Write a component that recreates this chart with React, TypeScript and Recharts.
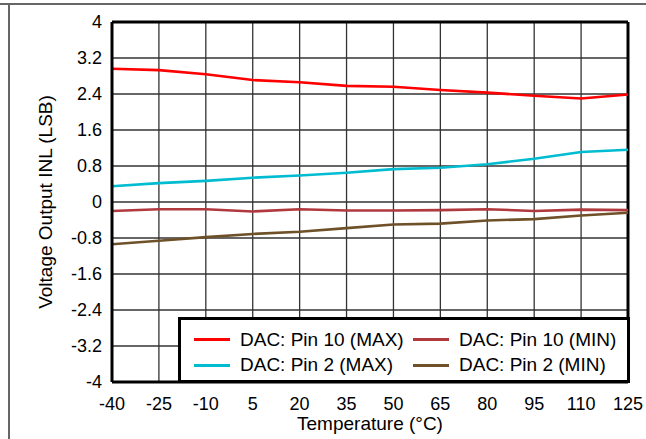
import React from 'react';
import {
  LineChart, Line, XAxis, YAxis, CartesianGrid, Legend, ReferenceLine,
} from 'recharts';

const TEMPS = [-40, -25, -10, 5, 20, 35, 50, 65, 80, 95, 110, 125];
const PIN10_MAX = [2.96, 2.93, 2.84, 2.71, 2.66, 2.58, 2.56, 2.49, 2.43, 2.36, 2.3, 2.39];
const PIN10_MIN = [-0.2, -0.16, -0.16, -0.21, -0.16, -0.19, -0.19, -0.18, -0.16, -0.2, -0.17, -0.18];
const PIN2_MAX = [0.35, 0.42, 0.47, 0.54, 0.59, 0.65, 0.73, 0.76, 0.84, 0.96, 1.11, 1.16];
const PIN2_MIN = [-0.94, -0.86, -0.78, -0.71, -0.66, -0.58, -0.5, -0.48, -0.41, -0.38, -0.3, -0.24];
const Y_TICKS = [-4, -3.2, -2.4, -1.6, -0.8, 0, 0.8, 1.6, 2.4, 3.2, 4];

const SERIES = [
  { key: 'p10max', name: 'DAC: Pin 10 (MAX)', color: '#ff0000', values: PIN10_MAX },
  { key: 'p10min', name: 'DAC: Pin 10 (MIN)', color: '#b0393e', values: PIN10_MIN },
  { key: 'p2max', name: 'DAC: Pin 2 (MAX)', color: '#00bcd0', values: PIN2_MAX },
  { key: 'p2min', name: 'DAC: Pin 2 (MIN)', color: '#6e5128', values: PIN2_MIN },
];

const data = TEMPS.map((t, i) => {
  const row: Record<string, number> = { t };
  SERIES.forEach((s) => { row[s.key] = s.values[i]; });
  return row;
});

const FONT = '"Liberation Sans", Arial, sans-serif';

const renderLegend = (props: any) => (
  <div style={{
    boxSizing: 'border-box', width: 452, height: 66, border: '3px solid #000', background: '#fff',
    padding: '9px 0 0 13px', display: 'grid', gridTemplateColumns: '219px auto',
    fontFamily: FONT, fontSize: 19, color: '#000', textAlign: 'left',
  }}>
    {(props.payload || []).map((p: any) => (
      <div key={p.value} style={{ height: 21, display: 'flex', alignItems: 'center' }}>
        <span style={{ width: 36, height: 3, background: p.color, marginRight: 10, display: 'inline-block' }} />
        <span style={{ whiteSpace: 'nowrap' }}>{p.value}</span>
      </div>
    ))}
  </div>
);

export default function App() {
  return (
    <div style={{ position: 'absolute', left: 0, top: 0, width: 646, height: 439, background: '#fff', fontFamily: FONT }}>
      <div style={{ position: 'absolute', left: 0, top: 3, width: 646, height: 1.5, background: '#666' }} />
      <div style={{ position: 'absolute', left: 8, top: 3, width: 1.5, height: 436, background: '#666' }} />
      <LineChart width={646} height={439} data={data} margin={{ top: 22, right: 18, bottom: 0, left: 0 }}>
        <CartesianGrid stroke="#333" strokeWidth={1.3} />
        <XAxis
          dataKey="t" type="number" domain={[-40, 125]} ticks={TEMPS} height={57}
          tickLine={false} tickSize={6} tickMargin={9} interval={0}
          axisLine={{ stroke: '#000', strokeWidth: 3 }}
          tick={{ fill: '#000', fontSize: 18, fontFamily: FONT }}
          label={{
            content: (p: any) => (
              <text x={p.viewBox.x + p.viewBox.width / 2} y={430} textAnchor="middle" fontSize={19} fontFamily={FONT} fill="#000">
                Temperature (°C)
              </text>
            ),
          }}
        />
        <YAxis
          type="number" domain={[-4, 4]} ticks={Y_TICKS} width={112} interval={0}
          tickLine={false} tickSize={6} tickMargin={4}
          axisLine={{ stroke: '#000', strokeWidth: 3 }}
          tick={{ fill: '#000', fontSize: 18, fontFamily: FONT }}
          label={{
            content: (p: any) => {
              const cy = p.viewBox.y + p.viewBox.height / 2;
              return (
                <text x={52} y={cy} transform={`rotate(-90, 52, ${cy})`} textAnchor="middle" fontSize={19} fontFamily={FONT} fill="#000">
                  Voltage Output INL (LSB)
                </text>
              );
            },
          }}
        />
        <ReferenceLine y={4} stroke="#000" strokeWidth={3} />
        <ReferenceLine x={125} stroke="#000" strokeWidth={3} />
        {SERIES.map((s) => (
          <Line key={s.key} dataKey={s.key} name={s.name} stroke={s.color} strokeWidth={2.6}
            dot={false} type="linear" isAnimationActive={false} />
        ))}
        <Legend layout="horizontal" verticalAlign="middle" align="center" content={renderLegend}
          wrapperStyle={{ left: 178, top: 317, width: 452, height: 66 }} />
      </LineChart>
    </div>
  );
}
